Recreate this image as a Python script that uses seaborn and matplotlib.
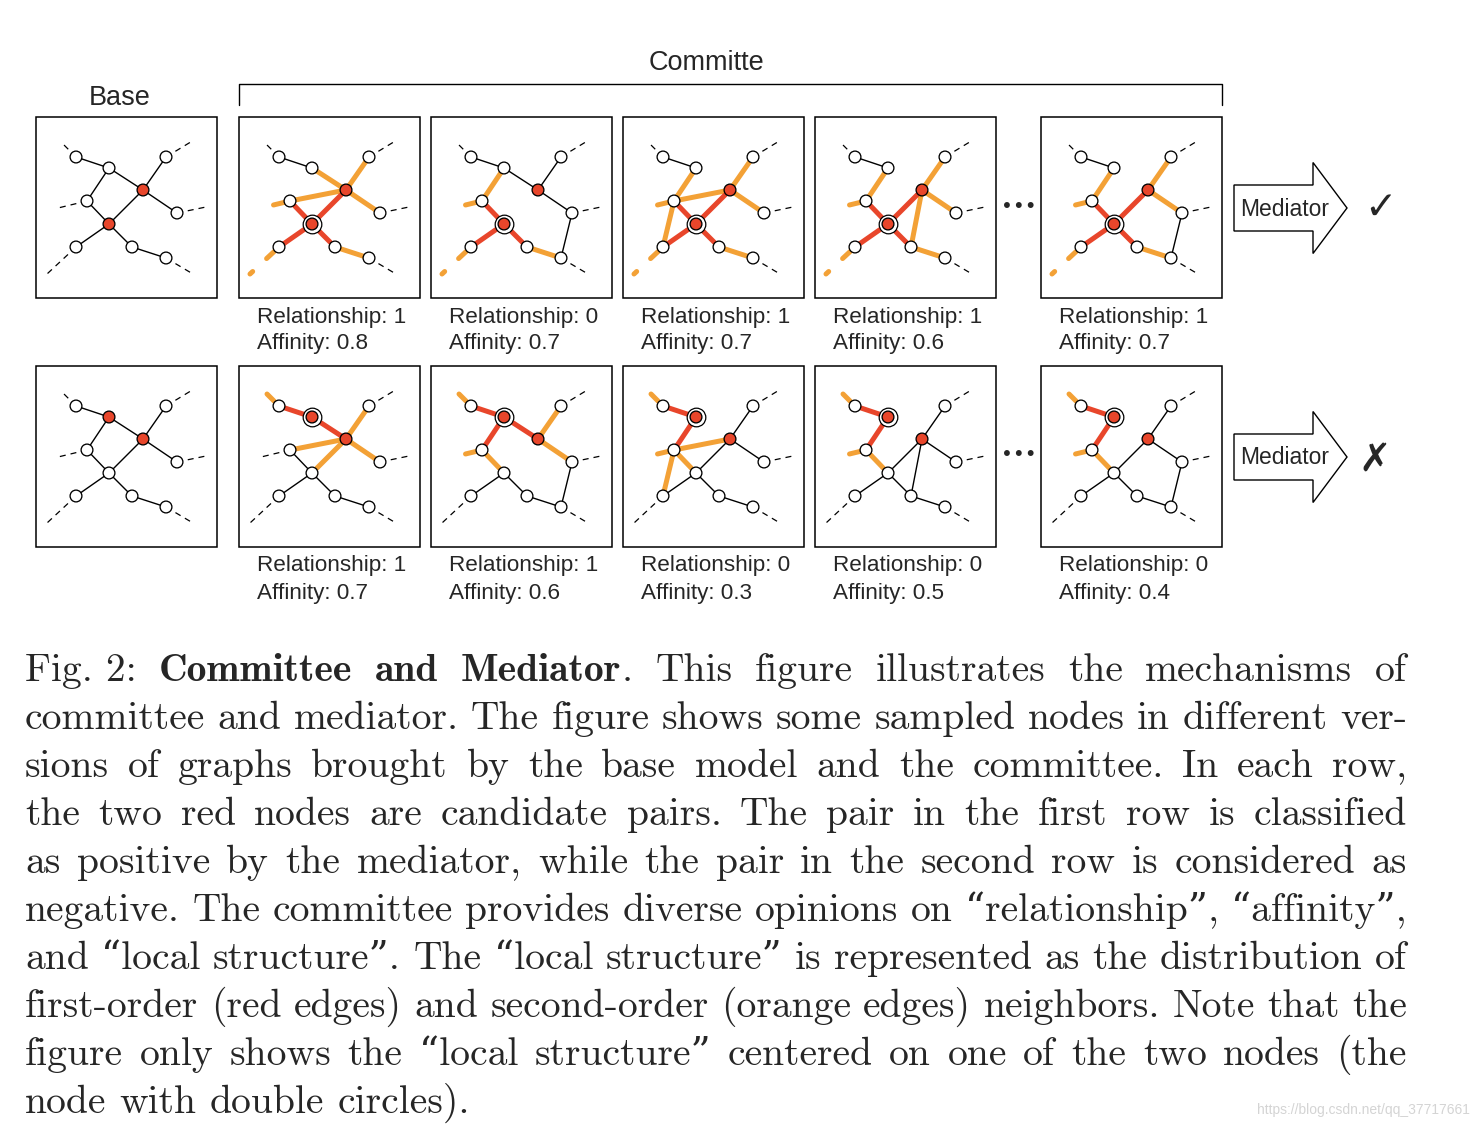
import matplotlib
matplotlib.use("Agg")
import matplotlib.pyplot as plt
from matplotlib.patches import Rectangle, FancyArrow
import pandas as pd
import seaborn as sns

# ---- graph layout inside one 181 px panel (x to the right, y downwards) ----
node_names = ["A", "B", "P", "C", "D", "E", "Q", "F", "G", "H"]
node_x = [40, 73, 107, 130, 141, 51, 73, 40, 96, 130]
node_y = [40, 51, 73, 40, 96, 84, 107, 130, 130, 141]

# loose (dashed) ends leaving the sampled sub-graph
stub_nodes = ["A", "C", "E", "D", "F", "H"]
stub_x = [25, 158, 22, 170, 11, 157]
stub_y = [25, 23, 91, 90, 157, 157]

base_edges = ["AB", "BP", "BE", "EQ", "PQ", "PC", "PD", "QF", "QG", "GH"]

# candidate pair per row, first one is the centre node (double circle)
row1_pair = ["Q", "P"]
row2_pair = ["B", "P"]

# committee members: black / orange (2nd order) / red (1st order) edges, orange stubs
row1_black = [["AB"], ["AB", "BP", "PC", "PD", "DH"], ["AB"], ["AB"], ["AB", "DH"]]
row1_orange = [["EP", "BP", "PC", "PD", "GH"], ["BE", "GH"],
               ["BE", "EP", "EF", "PC", "PD", "GH"], ["BE", "PG", "PC", "PD", "GH"],
               ["BE", "PC", "PD", "GH"]]
row1_red = [["QE", "QP", "QF", "QG"], ["EQ", "QF", "QG"], ["EQ", "QP", "QF", "QG"],
            ["EQ", "QP", "QF", "QG"], ["EQ", "QP", "QF", "QG"]]
row1_ostubs = [["E", "F"]] * 5

row2_black = [["EQ", "QF", "QG", "GH"], ["QF", "QG", "GH", "DH"],
              ["PC", "PD", "PQ", "QF", "QG", "GH"],
              ["QP", "PC", "PD", "PG", "QF", "QG", "GH"],
              ["QP", "PC", "PD", "DH", "QF", "QG", "GH"]]
row2_orange = [["PC", "PD", "PE", "PQ"], ["PC", "PD", "EQ"], ["EP", "EQ", "EF"], ["EQ"], ["EQ"]]
row2_red = [["AB", "BP"], ["AB", "BP", "BE"], ["AB", "BE"], ["AB", "BE"], ["AB", "BE"]]
row2_ostubs = [["A"], ["A", "E"], ["A", "E"], ["A", "E"], ["A", "E"]]

rel_row1 = [1, 0, 1, 1, 1]
aff_row1 = [0.8, 0.7, 0.7, 0.6, 0.7]
rel_row2 = [1, 1, 0, 0, 0]
aff_row2 = [0.7, 0.6, 0.3, 0.5, 0.4]

caption = [
    "Fig.\u00a02: **Committee and Mediator**. This figure illustrates the mechanisms of",
    "committee and mediator. The figure shows some sampled nodes in different ver-",
    "sions of graphs brought by the base model and the committee. In each row,",
    "the two red nodes are candidate pairs. The pair in the first row is classified",
    "as positive by the mediator, while the pair in the second row is considered as",
    "negative. The committee provides diverse opinions on \u201crelationship\u201d, \u201caffinity\u201d,",
    "and \u201clocal structure\u201d. The \u201clocal structure\u201d is represented as the distribution of",
    "first-order (red edges) and second-order (orange edges) neighbors. Note that the",
    "figure only shows the \u201clocal structure\u201d centered on one of the two nodes (the",
    "node with double circles).",
]

RED = "#e8462b"
ORANGE = "#f3a136"

sns.set_theme(style="white")
plt.rcParams["font.family"] = ["Liberation Sans", "DejaVu Sans"]
plt.rcParams["lines.scale_dashes"] = False

fig = plt.figure(figsize=(14.78, 11.28), dpi=100)
ax = fig.add_axes([0, 0, 1, 1])
ax.set_xlim(0, 1478)
ax.set_ylim(1128, 0)
ax.axis("off")

pos = dict(zip(node_names, zip(node_x, node_y)))
stubs = dict(zip(stub_nodes, zip(stub_x, stub_y)))

col_left = [36, 239, 431, 623, 815, 1041]
row_top = [117, 366]
SIZE = 181

node_rows = []
ring_rows = []


def draw_panel(left, top, black, orange, red, ostubs, pair):
    ax.add_patch(Rectangle((left, top), SIZE, SIZE, fill=False, ec="black", lw=1.1, zorder=1))
    for n, (sx, sy) in stubs.items():
        nx, ny = pos[n]
        if n in ostubs:
            ax.plot([left + nx, left + sx], [top + ny, top + sy], color=ORANGE, lw=3.6,
                    dashes=(12.2, 13.7), dash_capstyle="round", zorder=2)
        else:
            ax.plot([left + nx, left + sx], [top + ny, top + sy], color="black", lw=0.9,
                    dashes=(4.3, 3.6), zorder=2)
    for edges, c, w, z in [(black, "black", 1.0, 2), (orange, ORANGE, 3.6, 3), (red, RED, 3.6, 3.5)]:
        for e in edges:
            (x0, y0), (x1, y1) = pos[e[0]], pos[e[1]]
            ax.plot([left + x0, left + x1], [top + y0, top + y1], color=c, lw=w,
                    solid_capstyle="round", zorder=z)
    for n, (x, y) in pos.items():
        node_rows.append({"x": left + x, "y": top + y, "kind": "pair" if n in pair else "plain"})


for r, (top, pair) in enumerate(zip(row_top, [row1_pair, row2_pair])):
    draw_panel(col_left[0], top, base_edges, [], [], [], pair)
    blacks = row1_black if r == 0 else row2_black
    oranges = row1_orange if r == 0 else row2_orange
    reds = row1_red if r == 0 else row2_red
    ostubs = row1_ostubs if r == 0 else row2_ostubs
    rels = rel_row1 if r == 0 else rel_row2
    affs = aff_row1 if r == 0 else aff_row2
    for i in range(5):
        left = col_left[i + 1]
        draw_panel(left, top, blacks[i], oranges[i], reds[i], ostubs[i], pair)
        cx, cy = pos[pair[0]]
        ring_rows.append({"x": left + cx, "y": top + cy})
        ax.text(left + 18, top + 200, f"Relationship: {rels[i]}", fontsize=16.2, va="center")
        ax.text(left + 18, top + 227, f"Affinity: {affs[i]}", fontsize=16.2, va="center")
    # ellipsis between the 4th and 5th committee member
    ax.text(1019, top + 89, "\u2022\u2022\u2022", fontsize=14.5, ha="center", va="center",
            family=["DejaVu Sans"])
    # mediator arrow
    ay = top + 91
    ax.add_patch(FancyArrow(1234, ay, 113, 0, width=46, head_width=91, head_length=34,
                            length_includes_head=True, fc="white", ec="black", lw=1.0, zorder=2))
    ax.text(1285, ay + 1, "Mediator", fontsize=16.5, ha="center", va="center", zorder=3)

ax.text(1380, 208, "\u2713", fontsize=28, ha="center", va="center", family=["DejaVu Sans"],
        fontweight="bold")
ax.text(1375, 460, "\u2717", fontsize=28, ha="center", va="center", family=["DejaVu Sans"],
        fontweight="bold")

nodes = pd.DataFrame(node_rows)
rings = pd.DataFrame(ring_rows)
sns.scatterplot(data=rings, x="x", y="y", s=180, color="white", edgecolor="black",
                linewidth=0.9, ax=ax, zorder=4, legend=False)
sns.scatterplot(data=nodes, x="x", y="y", hue="kind", hue_order=["plain", "pair"],
                palette={"plain": "white", "pair": RED}, s=72, edgecolor="black",
                linewidth=0.95, ax=ax, zorder=5, legend=False)
ax.set_xlim(0, 1478)
ax.set_ylim(1128, 0)
ax.axis("off")

# headers
ax.text(120, 98, "Base", fontsize=19.5, ha="center", va="center")
ax.text(707, 63, "Committe", fontsize=19.5, ha="center", va="center")
ax.plot([239, 239, 1222, 1222], [105, 84, 84, 105], color="black", lw=1.0)

# ---- justified caption ----
fig.canvas.draw()
renderer = fig.canvas.get_renderer()
REG = ["cmr10", "DejaVu Serif"]
BLD = ["cmb10", "DejaVu Serif"]
CAP_SIZE = 28.5
X0, X1 = 25, 1407


def words_of(line):
    words = [[]]
    for k, seg in enumerate(line.split("**")):
        bold = k % 2 == 1
        for j, p in enumerate(seg.split(" ")):
            if j > 0:
                words.append([])
            if p:
                words[-1].append((p, bold))
    return [w for w in words if w]


for li, line in enumerate(caption):
    yb = 681 + 48 * li
    words = words_of(line)
    placed = []
    total = 0
    for w in words:
        pieces = []
        for txt, bold in w:
            t = ax.text(0, yb, txt, fontsize=CAP_SIZE, family=BLD if bold else REG,
                        va="baseline", ha="left")
            wd = t.get_window_extent(renderer).width
            pieces.append((t, wd))
            total += wd
        placed.append(pieces)
    if li < len(caption) - 1:
        gap = (X1 - X0 - total) / (len(placed) - 1)
    else:
        gap = 0.333 * CAP_SIZE * 100 / 72
    x = X0
    for pieces in placed:
        for t, wd in pieces:
            t.set_x(x)
            x += wd
        x += gap

ax.text(1470, 1110, "https://blog.csdn.net/qq_37717661", fontsize=10, color="#d4d4d4",
        ha="right", va="center")

fig.savefig("out.png", dpi=100)
